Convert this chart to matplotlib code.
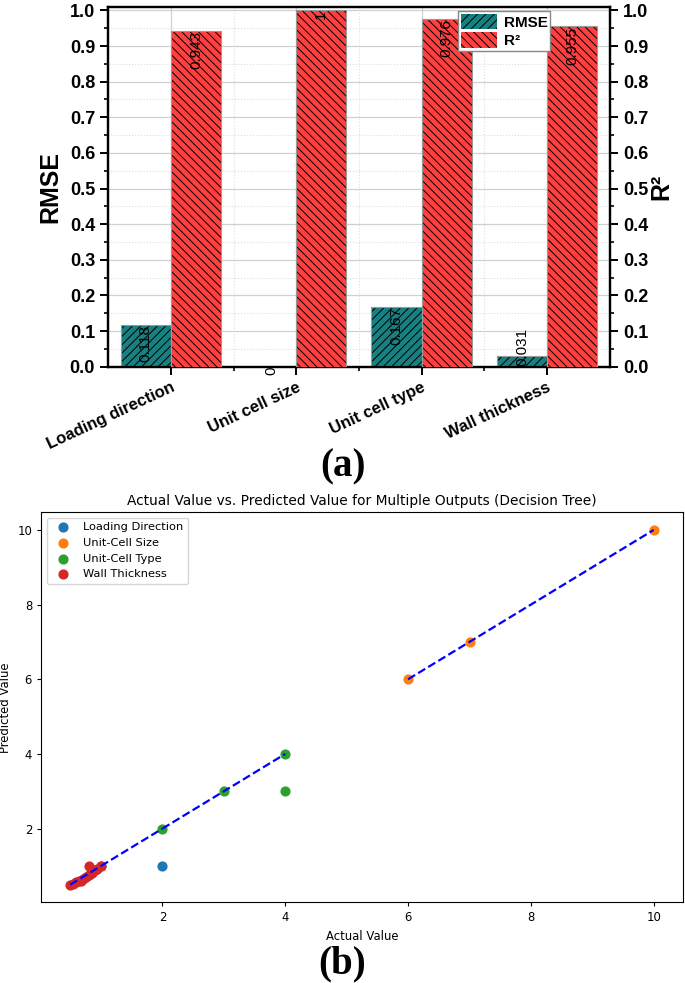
import numpy as np
import matplotlib.pyplot as plt
from matplotlib.patches import Patch
from matplotlib.ticker import MultipleLocator

# ---- data: panel (a) ----
features = ['Loading direction', 'Unit cell size', 'Unit cell type', 'Wall thickness']
rmse = [0.118, 0.0, 0.167, 0.031]
r2 = [0.943, 1.0, 0.976, 0.955]
rmse_labels = ['0.118', '0', '0.167', '0.031']
r2_labels = ['0.943', '1', '0.976', '0.955']

# ---- data: panel (b) ----
ld_actual = [1, 2]
ld_pred = [1, 1]
ucs_actual = [6, 7, 10]
ucs_pred = [6, 7, 10]
uct_actual = [2, 3, 4, 4]
uct_pred = [2, 3, 4, 3]
wt_actual = [0.5, 0.55, 0.6, 0.65, 0.67, 0.7, 0.75, 0.8, 0.8, 0.85, 0.9, 0.94, 1.0]
wt_pred = [0.5, 0.53, 0.57, 0.6, 0.61, 0.66, 0.7, 0.75, 1.0, 0.82, 0.88, 0.93, 1.0]

teal = '#178080'
red = '#ff4040'

fig = plt.figure(figsize=(6.85, 9.83), dpi=100)

# ================= panel (a) =================
ax = fig.add_axes([0.158, 0.627, 0.732, 0.366])
ax2 = ax.twinx()
x = np.arange(len(features))
w = 0.4

plt.rcParams['hatch.linewidth'] = 0.7
ax.bar(x - w / 2, rmse, w, color=teal, hatch='////', edgecolor='black', linewidth=0, zorder=3)
ax.bar(x - w / 2, rmse, w, fill=False, edgecolor='#999999', linewidth=0.8, zorder=4)
ax2.bar(x + w / 2, r2, w, color=red, hatch='\\\\\\\\', edgecolor='black', linewidth=0, zorder=3)
ax2.bar(x + w / 2, r2, w, fill=False, edgecolor='#999999', linewidth=0.8, zorder=4)

lab_font = dict(family='Liberation Sans', fontsize=11, rotation=90, ha='center')
for xi, v, t in zip(x, rmse, rmse_labels):
    if 0 < v < 0.1:
        ax.text(xi - w / 2, 0.002, t, va='bottom', zorder=6, clip_on=False, **lab_font)
    else:
        ax.text(xi - w / 2, v, t, va='top', zorder=6, clip_on=False, **lab_font)
for xi, v, t in zip(x, r2, r2_labels):
    ax2.text(xi + w / 2, v, t, va='top', zorder=6, clip_on=True, **lab_font)

for a in (ax, ax2):
    a.set_ylim(0, 1.01)
    a.set_xlim(-0.5, 3.5)
    a.yaxis.set_major_locator(MultipleLocator(0.1))
    a.yaxis.set_minor_locator(MultipleLocator(0.05))
    for s in a.spines.values():
        s.set_linewidth(1.6)

ax.set_xticks(x)
ax.set_xticks(x[:-1] + 0.5, minor=True)
ax.set_xticklabels(features, rotation=25, ha='right', rotation_mode='anchor',
                   fontsize=12, fontweight='bold', family='Liberation Sans')
ax.tick_params(axis='x', which='major', direction='out', length=6, width=1.4)
ax.tick_params(axis='x', which='minor', direction='out', length=3, width=1.2)
# top ticks point inward
ax2.tick_params(axis='x', which='major', top=True, bottom=False, labeltop=False,
                direction='in', length=6, width=1.4)
ax2.tick_params(axis='x', which='minor', top=True, bottom=False, direction='in',
                length=3, width=1.2)
ax.tick_params(axis='y', which='major', direction='out', length=6, width=1.4)
ax.tick_params(axis='y', which='minor', direction='out', length=3, width=1.2)
ax2.tick_params(axis='y', which='major', direction='out', length=6, width=1.4)
ax2.tick_params(axis='y', which='minor', direction='out', length=3, width=1.2)
for lbl in ax.get_yticklabels() + ax2.get_yticklabels():
    lbl.set_fontweight('bold')
    lbl.set_fontsize(13)
    lbl.set_family('Liberation Sans')

ax.grid(True, which='major', color='#d0d0d0', linewidth=0.9, zorder=0)
ax.grid(True, which='minor', color='#dddddd', linewidth=0.8, linestyle=':', zorder=0)
ax.set_axisbelow(True)

ax.set_ylabel('RMSE', fontsize=18, fontweight='bold', family='Liberation Sans', labelpad=5)
ax2.set_ylabel('R²', fontsize=18, fontweight='bold', family='Liberation Sans', labelpad=1)

handles = [Patch(facecolor=teal, hatch='////', edgecolor='black', linewidth=0),
           Patch(facecolor=red, hatch='\\\\\\\\', edgecolor='black', linewidth=0)]
leg = ax2.legend(handles, ['RMSE', 'R²'], loc='upper right', bbox_to_anchor=(0.888, 0.998),
                 prop={'family': 'Liberation Sans', 'weight': 'bold', 'size': 11},
                 fancybox=False, edgecolor='#888888', framealpha=1,
                 handlelength=2.4, handleheight=1.2, borderpad=0.2, labelspacing=0.15,
                 handletextpad=0.4, borderaxespad=0.2)
leg.set_zorder(10)

fig.text(0.5, 0.525, '(a)', ha='center', va='center', fontsize=28, fontweight='bold',
         family='Liberation Serif')

# ================= panel (b) =================
bx = fig.add_axes([0.060, 0.082, 0.937, 0.397])
bx.scatter(ld_actual, ld_pred, s=40, color='C0', label='Loading Direction', zorder=3)
bx.scatter(ucs_actual, ucs_pred, s=40, color='C1', label='Unit-Cell Size', zorder=3)
bx.scatter(uct_actual, uct_pred, s=40, color='C2', label='Unit-Cell Type', zorder=3)
bx.scatter(wt_actual, wt_pred, s=40, color='C3', label='Wall Thickness', zorder=3)
for act in (ld_actual, ucs_actual, uct_actual, wt_actual):
    bx.plot([min(act), max(act)], [min(act), max(act)], 'b--', linewidth=1.6, zorder=4)

bx.set_title('Actual Value vs. Predicted Value for Multiple Outputs (Decision Tree)',
             fontsize=9.9, pad=5)
bx.set_xlabel('Actual Value', fontsize=8.4)
bx.set_ylabel('Predicted Value', fontsize=8.4)
bx.tick_params(labelsize=8.4, length=3)
bx.legend(loc='upper left', fontsize=8.2)

fig.text(0.5, 0.019, '(b)', ha='center', va='center', fontsize=28, fontweight='bold',
         family='Liberation Serif')

fig.savefig('out.png', dpi=100)
